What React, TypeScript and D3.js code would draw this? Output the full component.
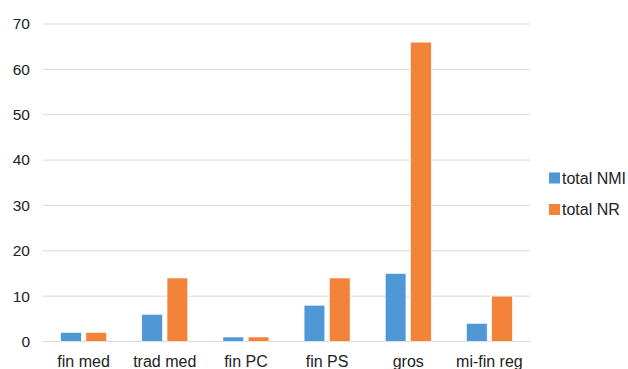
import React from "react";
import * as d3 from "d3";

const categories = ["fin med", "trad med", "fin PC", "fin PS", "gros", "mi-fin reg"];
const totalNMI = [2, 6, 1, 8, 15, 4];
const totalNR = [2, 14, 1, 14, 66, 10];
const yTicks = [0, 10, 20, 30, 40, 50, 60, 70];
const seriesNames = ["total NMI", "total NR"];
const colors = ["#5097d5", "#f28339"];

export default function App() {
  const W = 628, H = 369;
  const left = 43, right = 530, top = 24, bottom = 341.5;
  const x = d3.scaleBand<string>().domain(categories).range([left, right]);
  const y = d3.scaleLinear().domain([0, 70]).range([bottom, top]);
  const inner = d3.scaleBand<number>().domain([0, 1]).range([-23, 23]).paddingInner(0.18);
  const series = [totalNMI, totalNR];
  const font = "'Liberation Sans', Arial, Helvetica, sans-serif";
  return (
    <svg width={W} height={H} style={{ position: "absolute", left: 0, top: 0, background: "#fff" }} fontFamily={font}>
      {yTicks.map((t) => (
        <g key={t}>
          <line x1={left} x2={right} y1={y(t)} y2={y(t)} stroke="#d9d9d9" strokeWidth={1} />
          <text x={30} y={y(t)} dy="0.35em" textAnchor="end" fontSize={15.5} fill="#222">{t}</text>
        </g>
      ))}
      {series.map((vals, si) =>
        vals.map((v, i) => {
          const cx = (x(categories[i]) as number) + x.bandwidth() / 2;
          const bx = cx + (inner(si) as number);
          return (
            <rect key={si + "-" + i} x={bx} y={y(v)} width={inner.bandwidth()} height={y(0) - y(v)}
              fill={colors[si]} stroke="#fff" strokeWidth={0.6} />
          );
        })
      )}
      {categories.map((c) => (
        <text key={c} x={(x(c) as number) + x.bandwidth() / 2} y={367} textAnchor="middle" fontSize={16} fill="#222">{c}</text>
      ))}
      {seriesNames.map((n, i) => (
        <g key={n}>
          <rect x={549} y={172.5 + i * 31.5} width={11} height={11} fill={colors[i]} />
          <text x={562} y={183.5 + i * 31.5} fontSize={16} fill="#222">{n}</text>
        </g>
      ))}
    </svg>
  );
}
